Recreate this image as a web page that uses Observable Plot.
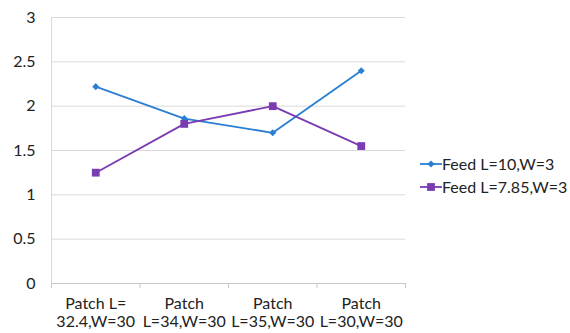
<!DOCTYPE html>
<html>
<head>
<meta charset="utf-8">
<script src="https://cdn.jsdelivr.net/npm/d3@7"></script>
<script src="https://cdn.jsdelivr.net/npm/@observablehq/plot@0.6"></script>
<style>
  body { margin: 0; background: #fff; }
  #wrap { position: relative; width: 570px; height: 333px; font-family: Lato, "Open Sans", sans-serif; }
  .legend { position: absolute; left: 420px; font-size: 16px; color: #222; display: flex; align-items: center; white-space: nowrap; line-height: 20px; }
  .legend svg { margin-right: 0px; }
</style>
</head>
<body>
<div id="wrap"></div>
<script>
// Patch antenna variants along the x axis
const categories = ["Patch L=\n32.4,W=30", "Patch\nL=34,W=30", "Patch\nL=35,W=30", "Patch\nL=30,W=30"];
// Two feed-line configurations
const seriesNames = ["Feed L=10,W=3", "Feed L=7.85,W=3"];
const feed10 = [2.22, 1.86, 1.70, 2.40];
const feed785 = [1.25, 1.80, 2.00, 1.55];
const yTicks = [0, 0.5, 1, 1.5, 2, 2.5, 3];

const colors = ["#2a7fd3", "#7a3cb2"];
const symbols = ["diamond2", "square"];
const radii = [3.2, 4.4];

const rows = [];
[feed10, feed785].forEach((vals, s) => {
  vals.forEach((v, i) => rows.push({series: seriesNames[s], pos: i + 0.5, value: v}));
});

const centers = categories.map((_, i) => i + 0.5);
const edges = d3.range(categories.length + 1);

const chart = Plot.plot({
  width: 570,
  height: 333,
  marginLeft: 51,
  marginRight: 165,
  marginTop: 17,
  marginBottom: 50,
  style: {fontFamily: "Lato, 'Open Sans', sans-serif", fontSize: "16px", color: "#222"},
  x: {domain: [0, categories.length], axis: null},
  y: {domain: [0, 3], axis: null},
  color: {domain: seriesNames, range: colors},
  symbol: {domain: seriesNames, range: symbols},
  marks: [
    Plot.gridY(yTicks, {stroke: "#d9d9d9", strokeOpacity: 1, strokeWidth: 1}),
    Plot.ruleX([0], {stroke: "#d9d9d9"}),
    Plot.ruleY([0], {stroke: "#c8c8c8"}),
    Plot.axisY(yTicks, {tickSize: 0, tickPadding: 16, label: null, tickFormat: d => String(d), fontSize: 16, fill: "#222"}),
    Plot.axisX(edges, {tickSize: 5, label: null, tickFormat: () => "", stroke: "#c8c8c8", anchor: "bottom"}),
    Plot.axisX(centers, {tickSize: 0, tickPadding: 12, label: null, tickFormat: d => categories[Math.floor(d)], lineHeight: 1.15, fontSize: 16, fill: "#222", anchor: "bottom"}),
    Plot.line(rows, {x: "pos", y: "value", z: "series", stroke: "series", strokeWidth: 1.8}),
    Plot.dot(rows.filter(d => d.series === seriesNames[0]), {x: "pos", y: "value", symbol: "series", fill: "series", r: radii[0]}),
    Plot.dot(rows.filter(d => d.series === seriesNames[1]), {x: "pos", y: "value", symbol: "series", fill: "series", r: radii[1]})
  ]
});

const wrap = document.getElementById("wrap");
wrap.appendChild(chart);

// Legend to the right of the plot area
seriesNames.forEach((name, s) => {
  const item = document.createElement("div");
  item.className = "legend";
  item.style.top = (154 + s * 23) + "px";
  const sym = d3.symbol(s === 0 ? d3.symbolDiamond2 : d3.symbolSquare, Math.PI * radii[s] * radii[s])();
  item.innerHTML = `<svg width="22" height="20"><line x1="0" x2="22" y1="10" y2="10" stroke="${colors[s]}" stroke-width="1.8"/><path d="${sym}" transform="translate(11,10)" fill="${colors[s]}"/></svg><span>${name}</span>`;
  wrap.appendChild(item);
});
</script>
</body>
</html>
